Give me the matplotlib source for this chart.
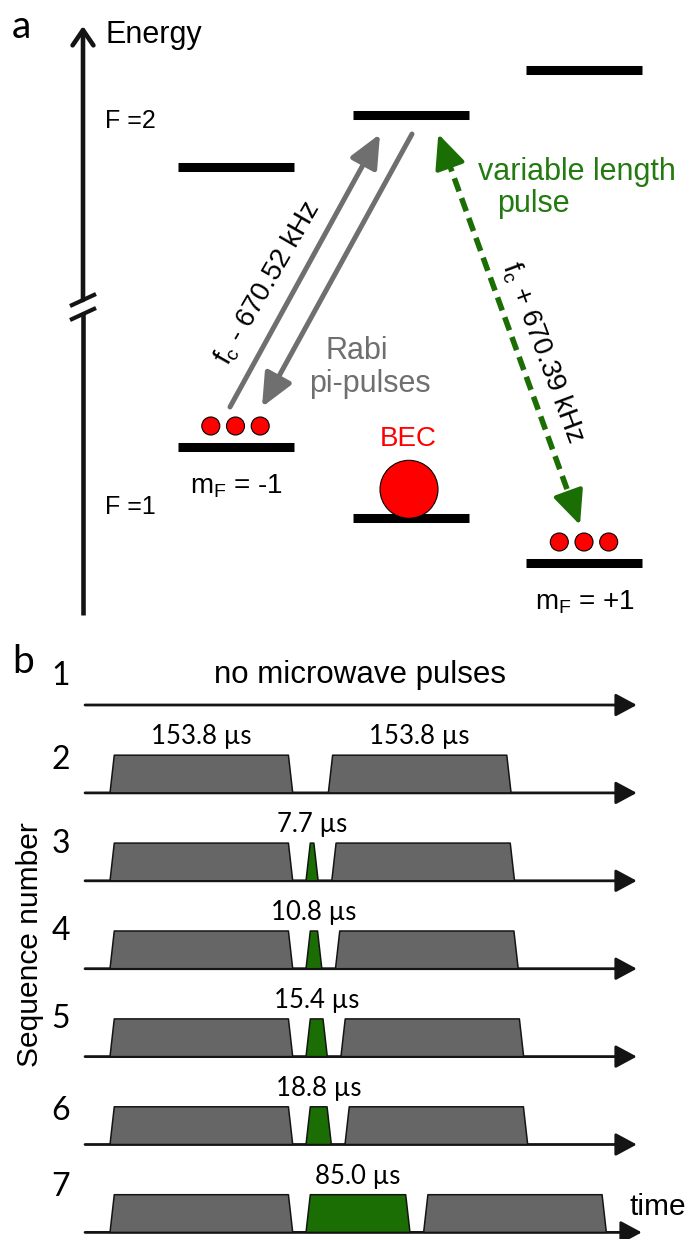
import matplotlib
matplotlib.use('Agg')
import numpy as np
import matplotlib.pyplot as plt
from matplotlib.patches import Circle, Polygon, FancyArrowPatch

plt.rcParams['font.family'] = ['Liberation Sans', 'DejaVu Sans']
plt.rcParams['mathtext.fontset'] = 'custom'
plt.rcParams['mathtext.rm'] = 'Liberation Sans'
plt.rcParams['mathtext.it'] = 'Liberation Sans:italic'

# ---------------- data ----------------
# panel a : hyperfine sublevels (screen position of each level line)
mF_labels = ['m$_\\mathregular{F}$ = -1', '', 'm$_\\mathregular{F}$ = +1']
level_x = [235.5, 411.0, 584.0]
F2_level_y = [166.5, 114.5, 69.5]
F1_level_y = [446.5, 518.3, 562.5]
thermal_atoms = [3, 0, 3]          # small dots sitting on F=1 sublevels
bec_level = 1                      # BEC sits in F=1, mF=0
f_minus = 'f$_\\mathregular{c}$ - 670.52 kHz'
f_plus = 'f$_\\mathregular{c}$ + 670.39 kHz'

# panel b : pulse sequences (durations in microseconds)
seq_no = [1, 2, 3, 4, 5, 6, 7]
has_pi = [False, True, True, True, True, True, True]
var_pulse = [0.0, 0.0, 7.7, 10.8, 15.4, 18.8, 85.0]
pi_len = 153.8
pi_gap = 30.0        # gap between the two pi pulses when there is no green pulse
gap_before = 11.2    # pi pulse -> variable pulse
gap_after = 11.5     # variable pulse -> second pi pulse
ramp = 3.6           # rise/fall time of the drawn pulses

GRAY = '#666666'
GREEN = '#1b6e03'
GREEN_TXT = '#237a10'
ARROW_GRAY = '#6f6f6f'
DARK = '#141414'

fig = plt.figure(figsize=(6.9, 12.39), dpi=100)

# ---------------- panel a (pixel coordinates) ----------------
ax = fig.add_axes([0, 0, 1, 1])
ax.set_xlim(0, 690)
ax.set_ylim(1239, 0)
ax.axis('off')

ax.text(12, 38, 'a', fontsize=28, family='Lato', ha='left', va='baseline')

# energy axis with a break
ax.add_patch(FancyArrowPatch((83, 300), (83, 26), arrowstyle='->,head_length=11,head_width=7.5',
                             mutation_scale=1, lw=3.3, color=DARK, shrinkA=0, shrinkB=0))
ax.plot([83, 83], [314, 615], color=DARK, lw=3.3, solid_capstyle='butt')
for yb in [300, 314]:
    ax.plot([70, 96], [yb + 6, yb - 6], color=DARK, lw=3.0, solid_capstyle='butt')
ax.text(105, 43, 'Energy', fontsize=22, ha='left', va='baseline')
ax.text(105, 128, 'F =2', fontsize=18, ha='left', va='baseline')
ax.text(105, 514, 'F =1', fontsize=18, ha='left', va='baseline')

# levels
for x, y2, y1 in zip(level_x, F2_level_y, F1_level_y):
    ax.plot([x - 58, x + 58], [y2, y2], color='black', lw=6.5, solid_capstyle='butt')
    ax.plot([x - 58, x + 58], [y1, y1], color='black', lw=6.5, solid_capstyle='butt')

# atoms
for x, y1, n in zip(level_x, F1_level_y, thermal_atoms):
    for k in range(n):
        ax.add_patch(Circle((x + (k - (n - 1) / 2) * 24.7, y1 - 20.5), 9,
                            fc='#ff0000', ec='black', lw=0.8, zorder=4))
ax.add_patch(Circle((level_x[bec_level] - 2, F1_level_y[bec_level] - 29), 29,
                    fc='#ff0000', ec='black', lw=0.8, zorder=4))
ax.text(408, 446, 'BEC', fontsize=20, color='#ff0000', ha='center', va='baseline')

# mF labels
ax.text(236, 493, mF_labels[0], fontsize=20, ha='center', va='baseline')
ax.text(585, 609, mF_labels[2], fontsize=20, ha='center', va='baseline')

# gray Rabi pi-pulse arrows
gray_style = '-|>,head_length=20,head_width=9'
ax.add_patch(FancyArrowPatch((230, 407), (380, 134), arrowstyle=gray_style, mutation_scale=1,
                             lw=3.6, color=ARROW_GRAY, shrinkA=0, shrinkB=0))
ax.add_patch(FancyArrowPatch((412, 134), (262, 407), arrowstyle=gray_style, mutation_scale=1,
                             lw=3.6, color=ARROW_GRAY, shrinkA=0, shrinkB=0))
ax.text(268, 283, f_minus, fontsize=20, rotation=60, rotation_mode='anchor',
        ha='center', va='center')
ax.text(357, 359, 'Rabi', fontsize=22, color=ARROW_GRAY, ha='center', va='baseline')
ax.text(370, 392, 'pi-pulses', fontsize=22, color=ARROW_GRAY, ha='center', va='baseline')

# green double arrow (dashed) for the variable length pulse
p_top = np.array([438.3, 134.0])
p_bot = np.array([580.0, 525.0])
u = (p_bot - p_top) / np.hypot(*(p_bot - p_top))
ax.plot([p_top[0] + u[0] * 26, p_bot[0] - u[0] * 26], [p_top[1] + u[1] * 26, p_bot[1] - u[1] * 26],
        color=GREEN, lw=4, dashes=(2.5, 1.3))
green_style = '-|>,head_length=21,head_width=9.5'
for tip, d in [(p_top, u), (p_bot, -u)]:
    ax.add_patch(FancyArrowPatch(tuple(tip + d * 30), tuple(tip), arrowstyle=green_style,
                                 mutation_scale=1, lw=3, color=GREEN, shrinkA=0, shrinkB=0))
ax.text(543, 352, f_plus, fontsize=20, rotation=-69.5, rotation_mode='anchor',
        ha='center', va='center')
ax.text(478, 180, 'variable length', fontsize=22, color=GREEN_TXT, ha='left', va='baseline')
ax.text(497, 212, 'pulse', fontsize=22, color=GREEN_TXT, ha='left', va='baseline')

# ---------------- panel b ----------------
ax.text(12, 673, 'b', fontsize=28, family='Lato', ha='left', va='baseline')
ax.text(360, 683, 'no microwave pulses', fontsize=22.5, ha='center', va='baseline')
ax.text(30, 945, 'Sequence number', fontsize=21.5, rotation=90, ha='center', va='center')
ax.text(630, 1215, 'time', fontsize=21.5, ha='left', va='baseline')

# panel b drawn in its own coordinates: x in microseconds, y in sequence rows
px_per_us = 1.188
x0_px = 110.0
row_px = 87.9
row1_px = 705.0
axb = fig.add_axes([0, 0, 1, 1])
axb.set_xlim(-x0_px / px_per_us, (690 - x0_px) / px_per_us)
axb.set_ylim(1 + (1239 - row1_px) / row_px, 1 - row1_px / row_px)
axb.axis('off')
axb.patch.set_alpha(0)

pulse_h = 37.7 / row_px
label_off = (37.7 + 11) * 72 / 100
num_lift = [20, 24, 28, 29, 29, 24, 36]
arrow_end = [443.4] * 6 + [447.6]


def pulse(t0, width, r, color):
    pts = [(t0, r), (t0 + ramp, r - pulse_h), (t0 + width - ramp, r - pulse_h), (t0 + width, r)]
    axb.add_patch(Polygon(pts, closed=True, fc=color, ec=DARK, lw=1.1,
                          joinstyle='round', zorder=3))


def label(t, r, s):
    axb.annotate(s, (t, r), xytext=(0, label_off), textcoords='offset points',
                 ha='center', va='baseline', fontsize=18.5, family='Lato')


for r, pi, L, lift, tend in zip(seq_no, has_pi, var_pulse, num_lift, arrow_end):
    axb.add_patch(FancyArrowPatch((-21, r), (tend, r), arrowstyle='-|>,head_length=13,head_width=7',
                                  mutation_scale=1, lw=2, color=DARK, shrinkA=0, shrinkB=0, zorder=2))
    axb.annotate(str(r), (-21, r), xytext=(-17.5, lift * 0.72), textcoords='offset points',
                 ha='center', va='baseline', fontsize=23, family='Lato')
    if not pi:
        continue
    pulse(0, pi_len, r, GRAY)
    if L > 0:
        g0 = pi_len + gap_before
        pulse(g0, L + 2.5, r, GREEN)
        label(g0 + (L + 2.5) / 2, r, f'{L:.1f} µs')
        t2 = g0 + L + 2.5 + gap_after
    else:
        t2 = pi_len + pi_gap
        label(pi_len / 2, r, f'{pi_len:.1f} µs')
        label(t2 + pi_len / 2, r, f'{pi_len:.1f} µs')
    pulse(t2, pi_len, r, GRAY)

fig.savefig('out.png', dpi=100)
